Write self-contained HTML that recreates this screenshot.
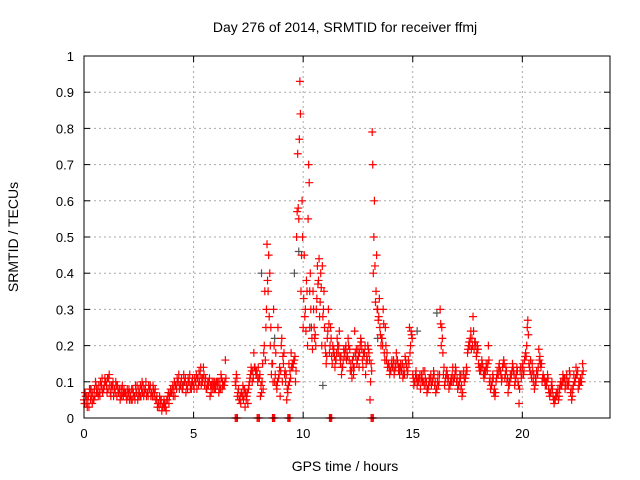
<!DOCTYPE html>
<html><head><meta charset="utf-8"><style>
body{margin:0;background:#fff}
svg{display:block;font-family:"Liberation Sans",sans-serif}
</style></head><body>
<svg id="chart" width="640" height="480">
<text x="345" y="32" text-anchor="middle" font-size="14">Day 276 of 2014, SRMTID for receiver ffmj</text>
<text x="345" y="471" text-anchor="middle" font-size="14">GPS time / hours</text>
<text transform="translate(18,237) rotate(-90)" text-anchor="middle" font-size="14">SRMTID / TECUs</text>
<g id="grid"></g><g id="marks"></g>
<rect x="84" y="56" width="526" height="362" fill="none" stroke="#000"/>
</svg>
<script>
const xTicks=[0,5,10,15,20];
const yTicks=[0,0.1,0.2,0.3,0.4,0.5,0.6,0.7,0.8,0.9,1];
const yTickLabels=["0","0.1","0.2","0.3","0.4","0.5","0.6","0.7","0.8","0.9","1"];
const step=0.1;
const redA=[0.05,0.04,0.06,0.05,0.07,0.06,0.08,0.07,0.09,0.08,
0.10,0.08,0.07,0.09,0.08,0.06,0.07,0.08,0.06,0.07,
0.06,0.07,0.05,0.06,0.07,0.08,0.06,0.09,0.08,0.07,
0.08,0.07,0.06,0.05,0.04,0.04,0.03,0.04,0.05,0.06,
0.07,0.08,0.09,0.10,0.09,0.08,0.10,0.09,0.10,0.08,
0.09,0.10,0.11,0.12,0.10,0.09,0.08,0.10,0.07,0.09,
0.08,0.09,0.10,0.08,0.09,null,null,null,null,0.10,
0.06,0.05,0.07,0.06,0.05,0.08,0.12,0.13,0.14,0.12,
0.11,0.07,0.18,0.25,0.35,0.20,0.15,0.10,0.08,0.12,
0.20,0.15,0.10,0.07,0.13,0.15,0.16,0.50,0.55,0.35,
0.25,0.30,0.20,0.35,0.22,0.25,0.30,0.38,0.40,0.28,
0.20,0.22,0.18,0.17,0.19,0.16,0.18,0.15,0.14,0.17,
0.18,0.16,0.13,0.12,0.17,0.19,0.20,0.16,0.18,0.17,
0.18,0.15,0.40,0.32,0.30,0.25,0.22,0.18,0.16,0.15,
0.13,0.14,0.15,0.16,0.12,0.13,0.14,0.15,0.16,0.20,
0.12,0.10,0.09,0.11,0.12,0.10,0.09,0.08,0.11,0.10,
0.09,0.08,0.10,0.20,0.12,0.11,0.10,0.09,0.12,0.11,
0.10,0.09,0.08,0.12,0.11,0.18,0.20,0.22,0.19,0.17,
0.15,0.13,0.14,0.12,0.13,0.10,0.09,0.07,0.10,0.12,
0.13,0.14,0.11,0.10,0.09,0.12,0.13,0.11,0.10,0.13,
0.14,0.16,0.20,0.15,0.12,0.10,0.11,0.12,0.17,0.10,
0.11,0.09,0.08,0.07,0.06,0.05,0.07,0.08,0.09,0.10,
0.11,0.09,0.07,0.08,0.10,0.12,0.09,0.10];
const redB=[0.07,0.03,0.08,0.06,0.05,0.09,0.06,0.10,0.07,0.11,
0.07,0.12,0.09,0.06,0.10,0.08,0.05,0.09,0.07,0.05,
0.08,0.05,0.07,0.09,0.05,0.06,0.10,0.07,0.06,0.09,
0.06,0.09,0.08,0.03,0.06,0.02,0.05,0.02,0.07,0.08,
0.09,0.06,0.11,0.08,0.11,0.12,0.07,0.11,0.08,0.11,
0.11,0.08,0.13,0.09,0.14,0.11,0.10,0.06,0.10,0.08,
0.10,0.07,0.12,0.09,0.16,null,null,null,null,0.12,
0.08,0.04,0.09,0.03,0.07,0.10,0.13,0.18,0.12,0.14,
0.06,0.15,0.35,0.48,0.28,0.12,0.30,0.18,0.25,0.06,
0.10,0.12,0.05,0.15,0.18,0.15,0.10,0.73,0.93,0.60,
0.45,0.38,0.70,0.30,0.35,0.23,0.42,0.28,0.20,0.35,
0.15,0.30,0.25,0.20,0.14,0.22,0.24,0.12,0.19,0.20,
0.22,0.13,0.16,0.24,0.15,0.14,0.21,0.18,0.12,0.20,
0.05,0.79,0.60,0.45,0.28,0.20,0.30,0.25,0.14,0.12,
0.16,0.12,0.18,0.13,0.15,0.11,0.17,0.12,0.25,0.23,
0.09,0.13,0.11,0.08,0.10,0.13,0.07,0.11,0.09,0.13,
0.07,0.12,0.30,0.22,0.09,0.13,0.08,0.11,0.10,0.14,
0.08,0.12,0.06,0.10,0.14,0.20,0.24,0.28,0.21,0.20,
0.13,0.16,0.11,0.15,0.20,0.08,0.12,0.06,0.13,0.15,
0.10,0.16,0.14,0.07,0.12,0.15,0.09,0.14,0.04,0.11,
0.12,0.18,0.27,0.13,0.15,0.08,0.13,0.19,0.14,0.12,
0.09,0.12,0.06,0.10,0.04,0.07,0.05,0.10,0.12,0.08,
0.09,0.13,0.05,0.12,0.14,0.08,0.11,0.15];
const redC=[0.04,0.06,0.03,0.08,0.05,0.10,0.07,0.06,0.11,0.09,
0.09,0.11,0.06,0.10,0.07,0.09,0.08,0.06,0.08,0.06,
0.07,0.06,0.08,0.05,0.09,0.07,0.08,0.06,0.10,0.06,
0.09,0.06,0.07,0.06,0.03,0.05,0.04,0.03,0.06,0.07,
0.08,0.10,0.08,0.12,0.10,0.09,0.11,0.08,0.12,0.10,
0.08,0.12,0.09,0.14,0.11,0.10,0.09,0.11,0.09,0.10,
0.09,0.10,0.08,0.10,0.10,null,null,null,null,0.09,
0.07,0.06,0.06,0.08,0.06,0.09,0.14,0.11,0.13,0.10,
0.12,0.10,0.20,0.30,0.45,0.25,0.10,0.12,0.10,0.14,
0.22,0.18,0.12,0.09,0.11,0.14,0.17,0.57,0.77,0.45,
0.33,0.24,0.55,0.40,0.19,0.22,0.33,0.44,0.36,0.30,
0.18,0.24,0.20,0.15,0.17,0.18,0.20,0.17,0.16,0.19,
0.17,0.19,0.11,0.14,0.19,0.17,0.22,0.14,0.20,0.16,
0.16,0.13,0.50,0.35,0.27,0.23,0.20,0.16,0.18,0.14,
0.15,0.16,0.14,0.15,0.14,0.15,0.12,0.14,0.15,0.24,
0.11,0.12,0.10,0.12,0.11,0.09,0.10,0.09,0.12,0.11,
0.10,0.10,0.12,0.25,0.14,0.12,0.11,0.10,0.14,0.12,
0.11,0.10,0.09,0.13,0.12,0.19,0.22,0.20,0.21,0.18,
0.14,0.14,0.12,0.13,0.15,0.11,0.10,0.08,0.11,0.14,
0.12,0.15,0.12,0.11,0.10,0.13,0.12,0.12,0.09,0.14,
0.15,0.17,0.25,0.14,0.11,0.12,0.10,0.14,0.15,0.11,
0.10,0.10,0.07,0.09,0.05,0.06,0.08,0.09,0.10,0.11,
0.12,0.10,0.08,0.09,0.11,0.13,0.10,0.12];
const redD=[0.06,0.05,0.07,0.04,0.08,0.07,0.09,0.08,0.08,0.10,
0.11,0.09,0.08,0.08,0.09,0.07,0.06,0.07,0.07,0.08,
0.05,0.08,0.06,0.07,0.06,0.09,0.07,0.08,0.07,0.08,
0.07,0.08,0.05,0.04,0.05,0.03,0.03,0.05,0.04,0.07,
0.06,0.09,0.10,0.09,0.08,0.10,0.09,0.10,0.09,0.09,
0.10,0.11,0.10,0.11,0.12,0.08,0.09,0.09,0.08,0.10,
0.10,0.08,0.11,0.09,0.11,null,null,null,null,0.11,
0.05,0.07,0.05,0.07,0.04,0.11,0.10,0.14,0.13,0.11,
0.09,0.08,0.16,0.38,0.40,0.15,0.20,0.09,0.11,0.13,
0.17,0.13,0.08,0.10,0.14,0.16,0.13,0.58,0.84,0.50,
0.28,0.35,0.65,0.25,0.30,0.20,0.37,0.32,0.42,0.25,
0.17,0.26,0.22,0.18,0.16,0.20,0.17,0.14,0.18,0.16,
0.20,0.15,0.14,0.18,0.16,0.18,0.19,0.17,0.15,0.19,
0.10,0.70,0.42,0.30,0.33,0.22,0.26,0.20,0.15,0.13,
0.14,0.13,0.16,0.14,0.13,0.12,0.16,0.13,0.18,0.22,
0.10,0.11,0.10,0.10,0.13,0.11,0.08,0.10,0.10,0.12,
0.08,0.09,0.26,0.18,0.10,0.12,0.09,0.10,0.11,0.13,
0.09,0.11,0.07,0.11,0.13,0.21,0.19,0.24,0.20,0.19,
0.14,0.15,0.13,0.14,0.16,0.09,0.11,0.07,0.12,0.13,
0.11,0.15,0.13,0.09,0.11,0.14,0.10,0.13,0.08,0.12,
0.13,0.17,0.23,0.16,0.13,0.09,0.12,0.16,0.15,0.11,
0.10,0.11,0.07,0.08,0.05,0.06,0.06,0.09,0.11,0.09,
0.10,0.12,0.06,0.10,0.12,0.10,0.10,0.13];
const zeroTimes=[6.9,7.9,8.6,9.3,11.2,13.1];
const grayTimes=[0.3,2.1,4.5,7.3,8.1,8.7,9.6,9.8,10.3,10.9,12.3,13.4,15.2,16.1,17.2,19.4,21.3];
const grayValues=[0.08,0.06,0.09,0.08,0.40,0.22,0.40,0.46,0.25,0.09,0.17,0.22,0.24,0.29,0.12,0.10,0.07];
const X0=84,X1=610,Y0=418,Y1=56,XMAX=24;
const xs=v=>X0+v/XMAX*(X1-X0), ys=v=>Y0-v*(Y0-Y1);
const NS="http://www.w3.org/2000/svg";
const grid=document.getElementById('grid'), marks=document.getElementById('marks');
function mk(t,a,p){const e=document.createElementNS(NS,t);for(const k in a)e.setAttribute(k,a[k]);p.appendChild(e);return e;}
xTicks.forEach(v=>{const x=xs(v);
 if(v>0){const l=mk('line',{x1:x,x2:x,y1:Y1,y2:Y0,stroke:'#aaa','stroke-dasharray':'2,3'},grid);
 
 }
 const t=mk('text',{x:x,y:Y0+20,'text-anchor':'middle','font-size':13},grid);t.textContent=v;
 
 
 mk('line',{x1:x,x2:x,y1:Y0,y2:Y0-6,stroke:'#000'},grid);mk('line',{x1:x,x2:x,y1:Y1,y2:Y1+6,stroke:'#000'},grid);});
yTicks.forEach((v,i)=>{const y=ys(v);
 if(v>0&&v<1){const l=mk('line',{x1:X0,x2:X1,y1:y,y2:y,stroke:'#aaa','stroke-dasharray':'2,3'},grid);
 
 }
 const t=mk('text',{x:X0-10,y:y+5,'text-anchor':'end','font-size':13},grid);t.textContent=yTickLabels[i];
 
 
 mk('line',{x1:X0,x2:X0+6,y1:y,y2:y,stroke:'#000'},grid);mk('line',{x1:X1,x2:X1-6,y1:y,y2:y,stroke:'#000'},grid);});
function plus(t,v,c,name){const x=xs(t),y=ys(v);
 const p=mk('path',{d:`M${x-4},${y}h8M${x},${y-4}v8`,stroke:c,'stroke-width':1.2,fill:'none'},marks);
 
 }
grayTimes.forEach((t,i)=>plus(t,grayValues[i],'#555','gray-point'));
[[redA,0],[redB,0.05],[redC,0.025],[redD,0.075]].forEach(([arr,off])=>{
 arr.forEach((v,i)=>{if(v!==null)plus(i*step+off,v,'#f00','red-point');});});
zeroTimes.forEach(t=>{for(let k=0;k<3;k++)plus(t+k*0.05,0,'#f00','zero-point');});
</script>
</body></html>
